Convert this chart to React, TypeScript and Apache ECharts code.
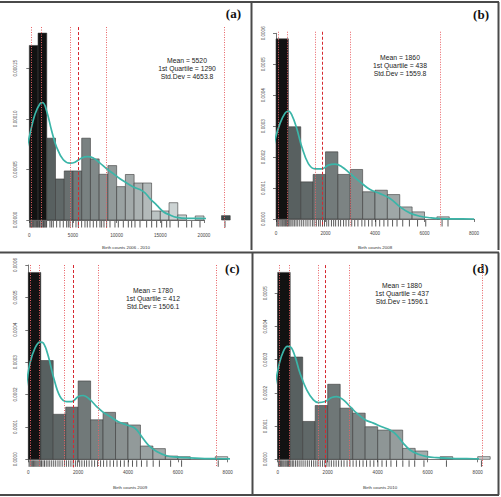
import React, { useEffect, useRef } from "react";
import * as echarts from "echarts";

// ---------- Panel (a): Birth counts 2006 - 2010 ----------
const aBinStarts = [0, 1000, 2000, 3000, 4000, 5000, 6000, 7000, 8000, 9000, 10000, 11000, 12000, 13000, 14000, 15000, 16000, 17000, 19000, 22000];
const aDensity = [1.726e-4, 1.848e-4, 8.09e-5, 4.06e-5, 4.85e-5, 4.85e-5, 8.09e-5, 6.04e-5, 4.52e-5, 5.38e-5, 3.3e-5, 4.5e-5, 3.66e-5, 3.66e-5, 0.89e-5, 0.89e-5, 1.71e-5, 0.5e-5, 0.4e-5, 0.43e-5];
const aCurveX = [-992, -496, 77, 649, 1222, 1527, 1985, 2558, 3130, 3893, 4657, 5229, 5993, 6641, 7329, 8092, 8856, 9619, 10382, 11146, 11909, 12672, 13245, 13817, 14581, 15344, 16107, 16871, 18016, 19542, 21069, 22596, 23932];
const aCurveY = [3.92e-5, 6.21e-5, 8.5e-5, 10.46e-5, 11.5e-5, 11.6e-5, 10.78e-5, 8.82e-5, 7.19e-5, 5.95e-5, 5.62e-5, 5.72e-5, 6.14e-5, 6.27e-5, 6.14e-5, 5.62e-5, 5.07e-5, 4.58e-5, 4.08e-5, 3.66e-5, 3.27e-5, 3.01e-5, 2.68e-5, 2.12e-5, 1.47e-5, 0.82e-5, 0.49e-5, 0.26e-5, 0.16e-5, 0.16e-5, 0.13e-5, 0.13e-5, 0.1e-5];
const aRug = [60, 150, 267, 350, 458, 550, 649, 750, 840, 950, 1031, 1150, 1221, 1350, 1412, 1550, 1603, 1700, 1794, 1900, 1985, 2366, 2557, 2748, 3130, 3511, 3893, 4275, 4466, 4656, 4962, 5344, 5611, 5992, 6374, 6641, 6947, 7328, 7710, 8092, 8282, 8550, 8855, 9237, 9809, 10191, 10763, 11336, 11718, 12099, 12672, 13435, 14008, 14580, 15153, 15725, 16107, 17061, 18015, 18588, 19542, 22405];
const aRefLines = [157, 1290, 4650, 8745, 22325];
const aMean = 5520;
const aStats = ["Mean = 5520", "1st Quartile = 1290", "Std.Dev = 4653.8"];
const aTitle = "Birth counts 2006 - 2010";
const aTag = "(a)";

// ---------- Panel (b): Birth counts 2008 ----------
const bBinStarts = [0, 500, 1000, 1500, 2000, 2500, 3000, 3500, 4000, 4500, 5000, 5500, 6500];
const bDensity = [5.82e-4, 2.98e-4, 1.2e-4, 1.44e-4, 2.17e-4, 1.44e-4, 1.6e-4, 0.88e-4, 0.93e-4, 0.79e-4, 0.39e-4, 0.23e-4, 0.07e-4];
const bCurveX = [-283, -175, -40, 162, 364, 499, 633, 836, 1038, 1307, 1577, 1846, 2116, 2385, 2655, 2992, 3396, 3801, 4205, 4609, 5013, 5418, 5822, 6226, 6631, 7305, 8005];
const bCurveY = [1.31e-4, 1.9e-4, 2.55e-4, 3.09e-4, 3.42e-4, 3.49e-4, 3.37e-4, 2.93e-4, 2.34e-4, 1.79e-4, 1.62e-4, 1.62e-4, 1.74e-4, 1.77e-4, 1.69e-4, 1.47e-4, 1.2e-4, 0.95e-4, 0.82e-4, 0.66e-4, 0.39e-4, 0.19e-4, 0.09e-4, 0.04e-4, 0.01e-4, 0.002e-4, 0.0];
const bRug = [25, 70, 110, 160, 205, 250, 290, 335, 380, 420, 465, 510, 560, 610, 680, 740, 810, 880, 960, 1040, 1120, 1210, 1290, 1380, 1470, 1540, 1630, 1720, 1790, 1880, 1960, 2050, 2130, 2240, 2330, 2410, 2520, 2610, 2730, 2830, 2940, 3060, 3180, 3310, 3470, 3590, 3740, 3880, 4030, 4190, 4360, 4520, 4710, 4890, 5120, 5390, 5720, 6050, 6710, 6950];
const bRefLines = [67, 438, 1580, 2996, 6613];
const bMean = 1860;
const bStats = ["Mean = 1860", "1st Quartile = 438", "Std.Dev = 1559.8"];
const bTitle = "Birth counts 2008";
const bTag = "(b)";

// ---------- Panel (c): Birth counts 2009 ----------
const cBinStarts = [0, 500, 1000, 1500, 2000, 2500, 3000, 3500, 4000, 4500, 5000, 5500, 6000, 7500];
const cDensity = [5.77e-4, 3.05e-4, 1.39e-4, 1.61e-4, 2.42e-4, 1.22e-4, 1.45e-4, 1.13e-4, 1.06e-4, 0.41e-4, 0.33e-4, 0.1e-4, 0.08e-4, 0.08e-4];
const cCurveX = [-268, -174, -67, 67, 268, 468, 602, 803, 1003, 1271, 1538, 1739, 2007, 2207, 2475, 2742, 3010, 3278, 3612, 3946, 4281, 4548, 4816, 5151, 5552, 5953, 6355, 6890, 7559, 8227, 8468];
const cCurveY = [1.37e-4, 1.84e-4, 2.35e-4, 2.97e-4, 3.43e-4, 3.62e-4, 3.59e-4, 3.18e-4, 2.56e-4, 1.94e-4, 1.78e-4, 1.78e-4, 1.94e-4, 1.97e-4, 1.84e-4, 1.63e-4, 1.45e-4, 1.32e-4, 1.16e-4, 1.06e-4, 0.96e-4, 0.7e-4, 0.44e-4, 0.24e-4, 0.11e-4, 0.07e-4, 0.05e-4, 0.03e-4, 0.02e-4, 0.01e-4, 0.0];
const cRug = [30, 75, 120, 165, 210, 255, 300, 345, 390, 435, 480, 530, 590, 650, 720, 790, 860, 940, 1020, 1100, 1190, 1270, 1360, 1450, 1530, 1620, 1710, 1800, 1890, 1970, 2060, 2150, 2250, 2340, 2440, 2550, 2660, 2780, 2900, 3020, 3150, 3280, 3420, 3560, 3700, 3850, 4010, 4180, 4350, 4540, 4760, 5010, 5260, 5710, 6150, 7620];
const cRefLines = [68, 412, 1446, 2811, 7523];
const cMean = 1780;
const cStats = ["Mean = 1780", "1st Quartile = 412", "Std.Dev = 1506.1"];
const cTitle = "Birth counts 2009";
const cTag = "(c)";

// ---------- Panel (d): Birth counts 2010 ----------
const dBinStarts = [0, 500, 1000, 1500, 2000, 2500, 3000, 3500, 4000, 4500, 5000, 5500, 6500, 8000];
const dDensity = [5.63e-4, 3.08e-4, 1.14e-4, 1.62e-4, 2.26e-4, 1.54e-4, 1.39e-4, 0.98e-4, 0.88e-4, 0.88e-4, 0.33e-4, 0.25e-4, 0.08e-4, 0.08e-4];
const dCurveX = [-267, -173, -67, 67, 227, 387, 520, 693, 893, 1160, 1427, 1627, 1893, 2160, 2360, 2627, 2893, 3160, 3493, 3827, 4160, 4493, 4760, 5027, 5293, 5627, 5960, 6360, 6893, 7560, 8493];
const dCurveY = [1.39e-4, 1.89e-4, 2.39e-4, 2.89e-4, 3.25e-4, 3.4e-4, 3.38e-4, 3.1e-4, 2.59e-4, 2.09e-4, 1.79e-4, 1.71e-4, 1.74e-4, 1.86e-4, 1.89e-4, 1.79e-4, 1.59e-4, 1.39e-4, 1.19e-4, 1.09e-4, 0.98e-4, 0.88e-4, 0.73e-4, 0.48e-4, 0.28e-4, 0.15e-4, 0.08e-4, 0.05e-4, 0.03e-4, 0.02e-4, 0.01e-4];
const dRug = [28, 70, 115, 158, 204, 248, 296, 340, 388, 431, 476, 525, 584, 642, 715, 785, 858, 935, 1015, 1098, 1185, 1265, 1352, 1440, 1525, 1610, 1702, 1795, 1884, 1968, 2055, 2146, 2244, 2338, 2436, 2545, 2652, 2775, 2890, 3015, 3142, 3276, 3414, 3555, 3698, 3845, 4006, 4172, 4347, 4530, 4755, 5005, 5255, 5480, 5850, 6750, 8150];
const dRefLines = [67, 437, 1627, 2867, 8160];
const dMean = 1880;
const dStats = ["Mean = 1880", "1st Quartile = 437", "Std.Dev = 1596.1"];
const dTitle = "Birth counts 2010";
const dTag = "(d)";

const panels = [
  {
    bins: aBinStarts, dens: aDensity, cx: aCurveX, cy: aCurveY, rug: aRug, refs: aRefLines, mean: aMean, stats: aStats, title: aTitle, tag: aTag,
    left: 29.3, top: 68.3, width: 174.7, height: 151.7, xMax: 20000, xInt: 5000, yMax: 1.5e-4, yInt: 5e-5, yDigits: 5,
    yOff: 8.3, xOff: 10, refTop: 1.908e-4, binW: 1000, blackBelow: 2000, rampStart: 2000, rampEnd: 16000, darkAfter: 21000,
    statsX: 187, statsY: 60.7, tagX: 241, tagY: 13.5, titleX: 126, titleY: 247.3,
  },
  {
    bins: bBinStarts, dens: bDensity, cx: bCurveX, cy: bCurveY, rug: bRug, refs: bRefLines, mean: bMean, stats: bStats, title: bTitle, tag: bTag,
    left: 276, top: 33.3, width: 198, height: 185.7, xMax: 8000, xInt: 2000, yMax: 6e-4, yInt: 1e-4, yDigits: 4,
    yOff: 7, xOff: 8.7, refTop: 6.05e-4, binW: 500, blackBelow: 500, rampStart: 500, rampEnd: 7000, darkAfter: 99999,
    statsX: 400, statsY: 57.3, tagX: 489, tagY: 14.5, titleX: 375, titleY: 247.7,
  },
  {
    bins: cBinStarts, dens: cDensity, cx: cCurveX, cy: cCurveY, rug: cRug, refs: cRefLines, mean: cMean, stats: cStats, title: cTitle, tag: cTag,
    left: 28.3, top: 265, width: 199.4, height: 194.3, xMax: 8000, xInt: 2000, yMax: 6e-4, yInt: 1e-4, yDigits: 4,
    yOff: 7.3, xOff: 7.4, refTop: 6.0e-4, binW: 500, blackBelow: 500, rampStart: 500, rampEnd: 7500, darkAfter: 99999,
    statsX: 153, statsY: 290, tagX: 239.5, tagY: 268.7, titleX: 130, titleY: 487.3,
  },
  {
    bins: dBinStarts, dens: dDensity, cx: dCurveX, cy: dCurveY, rug: dRug, refs: dRefLines, mean: dMean, stats: dStats, title: dTitle, tag: dTag,
    left: 277.7, top: 293.3, width: 200, height: 166, xMax: 8000, xInt: 2000, yMax: 5e-4, yInt: 1e-4, yDigits: 4,
    yOff: 6.7, xOff: 7.4, refTop: 5.85e-4, binW: 500, blackBelow: 500, rampStart: 500, rampEnd: 8000, darkAfter: 99999,
    statsX: 402, statsY: 285, tagX: 488.5, tagY: 268, titleX: 380, titleY: 487.3,
  },
];

const SANS = "'Liberation Sans', Arial, sans-serif";
const SERIF = "'Liberation Serif', 'Times New Roman', serif";

function mix(a: number[], b: number[], t: number) {
  const c = a.map((v, i) => Math.round(v + (b[i] - v) * t));
  return `rgb(${c[0]},${c[1]},${c[2]})`;
}

function barColor(p: any, x0: number) {
  if (x0 < p.blackBelow) return "#121212";
  if (x0 > p.darkAfter) return "#3e4c4c";
  const t = Math.max(0, Math.min(1, (x0 - p.rampStart) / (p.rampEnd - p.rampStart)));
  return mix([88, 96, 96], [204, 211, 211], t);
}

export default function App() {
  const ref = useRef<HTMLDivElement>(null);
  useEffect(() => {
    document.body.style.margin = "0";
    if (!ref.current) return;
    const chart = echarts.init(ref.current, undefined, { renderer: "svg" });

    const grid: any[] = [];
    const xAxis: any[] = [];
    const yAxis: any[] = [];
    const series: any[] = [];
    const graphic: any[] = [];

    panels.forEach((p, gi) => {
      grid.push({ left: p.left, top: p.top, width: p.width, height: p.height, outerBoundsMode: "none", containLabel: false });
      const axisLine = { show: true, lineStyle: { color: "#555", width: 0.8 } };
      const axisTick = { show: true, length: 3, lineStyle: { color: "#555", width: 0.8 } };
      xAxis.push({
        gridIndex: gi, type: "value", min: 0, max: p.xMax, interval: p.xInt, offset: p.xOff,
        axisLine, axisTick, splitLine: { show: false },
        axisLabel: {
          fontSize: 4.6, color: "#444", margin: 3, fontFamily: SANS, showMinLabel: true, showMaxLabel: true,
          formatter: (v: number) => String(Math.round(v)),
        },
      });
      yAxis.push({
        gridIndex: gi, type: "value", min: 0, max: p.yMax, interval: p.yInt, offset: p.yOff,
        axisLine, axisTick, splitLine: { show: false },
        axisLabel: {
          fontSize: 4.6, color: "#444", margin: 3, rotate: 90, fontFamily: SANS, showMinLabel: true, showMaxLabel: true,
          formatter: (v: number) => v.toFixed(p.yDigits),
        },
      });

      // histogram bars
      series.push({
        type: "custom", xAxisIndex: gi, yAxisIndex: gi, clip: false, silent: true, z: 2,
        data: p.bins.map((s, i) => [s, p.dens[i]]),
        renderItem: (params: any, api: any) => {
          const x0 = api.value(0);
          const h = api.value(1);
          const a = api.coord([x0, h]);
          const b = api.coord([x0 + p.binW, 0]);
          return {
            type: "rect",
            shape: { x: a[0], y: a[1], width: b[0] - a[0], height: b[1] - a[1] },
            style: { fill: barColor(p, x0), stroke: "#3a3a3a", lineWidth: 0.6 },
          };
        },
      });

      // rug
      series.push({
        type: "custom", xAxisIndex: gi, yAxisIndex: gi, clip: false, silent: true, z: 3,
        data: p.rug.map((v) => [v, 0]),
        renderItem: (params: any, api: any) => {
          const c = api.coord([api.value(0), 0]);
          return {
            type: "line",
            shape: { x1: c[0], y1: c[1] + 1, x2: c[0], y2: c[1] + 7.5 },
            style: { stroke: "#111", lineWidth: 0.7 },
          };
        },
      });

      // reference lines: dotted (summary stats) and dashed (mean)
      const refData = p.refs.map((v) => [v, 0]).concat([[p.mean, 1]]);
      series.push({
        type: "custom", xAxisIndex: gi, yAxisIndex: gi, clip: false, silent: true, z: 7,
        data: refData,
        renderItem: (params: any, api: any) => {
          const v = api.value(0);
          const isMean = api.value(1) === 1;
          const t = api.coord([v, p.refTop]);
          const b = api.coord([v, 0]);
          const x = Math.round(t[0]) + 0.5;
          return {
            type: "line",
            z2: 10,
            shape: { x1: x, y1: t[1], x2: x, y2: b[1] + 8 },
            style: isMean
              ? { stroke: "rgb(214,40,48)", lineWidth: 1, lineDash: [3, 2], fill: "none" }
              : { stroke: "rgb(232,96,100)", lineWidth: 1, lineDash: [1, 1.5], fill: "none" },
          };
        },
      });

      // density curve
      series.push({
        type: "line", xAxisIndex: gi, yAxisIndex: gi, clip: false, silent: true, z: 6,
        data: p.cx.map((x, i) => [x, p.cy[i]]),
        smooth: 0.4, showSymbol: false, symbol: "none",
        lineStyle: { color: "#3bb5a8", width: 1.7 },
      });

      // stats text
      p.stats.forEach((s, i) => {
        graphic.push({
          type: "text", x: p.statsX, y: p.statsY + i * 8.1,
          style: { text: s, fontSize: 6.8, fontFamily: SANS, fill: "#222", align: "center", verticalAlign: "middle" },
        });
      });
      graphic.push({
        type: "text", x: p.tagX, y: p.tagY,
        style: { text: p.tag, fontSize: 13, fontWeight: "bold", fontFamily: SERIF, fill: "#111", align: "right", verticalAlign: "middle" },
      });
      graphic.push({
        type: "text", x: p.titleX, y: p.titleY,
        style: { text: p.title, fontSize: 4.4, fontFamily: SANS, fill: "#333", align: "center", verticalAlign: "middle" },
      });
    });

    // panel frames
    const frame = { stroke: "#4a4a4a", lineWidth: 2 };
    const lines = [
      [0, 2, 499, 2],
      [251.5, 2, 251.5, 250],
      [498.5, 2, 498.5, 250],
      [0, 252.5, 499, 252.5],
      [252.5, 252.5, 252.5, 495],
      [498.5, 252.5, 498.5, 495],
      [0, 495, 499, 495],
    ];
    lines.forEach((l) => {
      graphic.push({ type: "line", shape: { x1: l[0], y1: l[1], x2: l[2], y2: l[3] }, style: frame, silent: true });
    });

    chart.setOption({
      animation: false,
      backgroundColor: "#ffffff",
      grid, xAxis, yAxis, series, graphic,
    });
    return () => chart.dispose();
  }, []);
  return <div ref={ref} style={{ width: 501, height: 497 }} />;
}
